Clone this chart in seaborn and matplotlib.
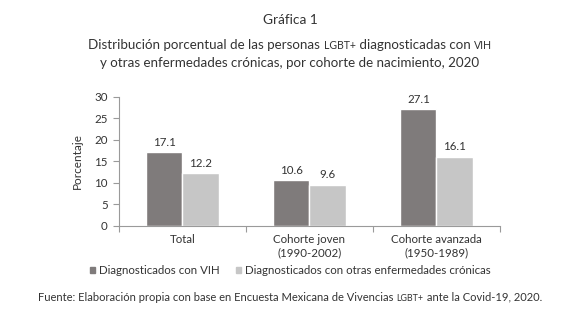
import matplotlib
matplotlib.use("Agg")
import matplotlib.pyplot as plt
import seaborn as sns
import pandas as pd
from matplotlib.patches import Patch
from matplotlib.offsetbox import TextArea, HPacker, AnchoredOffsetbox

categories = ["Total", "Cohorte joven\n(1990-2002)", "Cohorte avanzada\n(1950-1989)"]
series_names = ["Diagnosticados con VIH", "Diagnosticados con otras enfermedades crónicas"]
vih = [17.1, 10.6, 27.1]
otras = [12.2, 9.6, 16.1]
yticks = [0, 5, 10, 15, 20, 25, 30]

sns.set_theme(style="white")
FONT = ["Lato", "DejaVu Sans"]
plt.rcParams["font.family"] = FONT
TXT = "#333333"

df = pd.DataFrame({
    "cat": categories * 2,
    "serie": [series_names[0]] * 3 + [series_names[1]] * 3,
    "val": vih + otras,
})
colors = ["#7f7b7b", "#c6c6c6"]

fig = plt.figure(figsize=(5.8, 3.25), dpi=100)
ax = fig.add_axes([0.205, 0.305, 0.657, 0.397])
sns.barplot(data=df, x="cat", y="val", hue="serie", order=categories,
            hue_order=series_names, palette=colors, width=0.57, gap=0,
            ax=ax, legend=False, saturation=1)

for cont in ax.containers:
    ax.bar_label(cont, labels=[f"{v:.1f}" for v in cont.datavalues],
                 padding=3, fontsize=8.3, color=TXT)

ax.set_xlim(-0.5, 2.5)
ax.set_ylim(0, 30)
ax.set_yticks(yticks)
ax.set_yticklabels([str(t) for t in yticks], fontsize=8.3, color=TXT)
ax.set_xlabel("")
ax.set_ylabel("Porcentaje", fontsize=8.5, color=TXT, labelpad=8)
ax.tick_params(axis="y", length=4, color="#9a9a9a", width=0.8, pad=4, left=True)
ax.tick_params(axis="x", which="major", length=0, pad=6, labelsize=8.3, labelcolor=TXT)
ax.set_xticks([-0.5, 0.5, 1.5, 2.5], minor=True)
ax.tick_params(axis="x", which="minor", length=4, color="#9a9a9a", width=0.8, bottom=True)
for s in ["top", "right"]:
    ax.spines[s].set_visible(False)
for s in ["left", "bottom"]:
    ax.spines[s].set_color("#9a9a9a")
    ax.spines[s].set_linewidth(0.8)

handles = [Patch(color=c) for c in colors]
fig.legend(handles, series_names, loc="center", bbox_to_anchor=(0.5, 0.168),
           ncol=2, frameon=False, fontsize=8.3, handlelength=0.5, handleheight=0.5,
           handletextpad=0.3, columnspacing=1.4, labelcolor=TXT)

# Title
fig.text(0.5, 0.94, "Gráfica 1", ha="center", va="center", fontsize=9.8, color=TXT)

def line(parts, y, size, small):
    boxes = []
    for txt, sc in parts:
        boxes.append(TextArea(txt, textprops=dict(fontsize=small if sc else size,
                                                  color=TXT, family=FONT)))
    pk = HPacker(children=boxes, align="baseline", pad=0, sep=0)
    ab = AnchoredOffsetbox(loc="center", child=pk, frameon=False, pad=0,
                           bbox_to_anchor=(0.5, y), bbox_transform=fig.transFigure,
                           borderpad=0)
    fig.add_artist(ab)

line([("Distribución porcentual de las personas ", False), ("LGBT+", True),
      (" diagnosticadas con ", False), ("VIH", True)], 0.862, 9.6, 7.6)
fig.text(0.5, 0.805, "y otras enfermedades crónicas, por cohorte de nacimiento, 2020",
         ha="center", va="center", fontsize=9.6, color=TXT)
line([("Fuente: Elaboración propia con base en Encuesta Mexicana de Vivencias ", False),
      ("LGBT+", True), (" ante la Covid-19, 2020.", False)], 0.086, 8, 6.4)

fig.savefig("out.png", dpi=100)
